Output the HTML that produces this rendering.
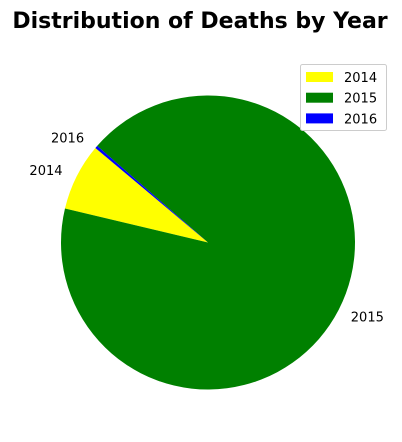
<!DOCTYPE html>
<html><head><meta charset="utf-8"><style>
body{margin:0;background:#fff;width:402px;height:437px;overflow:hidden}
text{font-family:"DejaVu Sans","Liberation Sans",sans-serif}
</style></head><body>
<svg width="402" height="437">
<text x="200" y="28" text-anchor="middle" font-size="22" font-weight="bold">Distribution of Deaths by Year</text>
<g id="pie"></g>
<g id="labels"></g>
<g>
<rect x="300.5" y="64.5" width="86" height="66" rx="2" fill="#fff" stroke="#ccc"/>
<g id="legend"></g>
</g>
</svg>
<script>
const categories=["2014","2015","2016"];
const values=[7.4,92.3,0.3];
const colors=["yellow","green","blue"];
const startAngle=140;
const cx=208,cy=242.5,r=147;
const ns="http://www.w3.org/2000/svg";
const pie=document.getElementById('pie'),lab=document.getElementById('labels'),leg=document.getElementById('legend');
const total=values.reduce((a,b)=>a+b,0);
let a=startAngle;
function pt(deg,rad){const t=deg*Math.PI/180;return [cx+rad*Math.cos(t),cy-rad*Math.sin(t)];}
values.forEach((v,i)=>{
 const sweep=v/total*360;const a2=a+sweep;
 const p1=pt(a,r),p2=pt(a2,r);
 const path=document.createElementNS(ns,'path');
 path.setAttribute('d',`M${cx},${cy}L${p1[0]},${p1[1]}A${r},${r} 0 ${sweep>180?1:0} 0 ${p2[0]},${p2[1]}Z`);
 path.setAttribute('fill',colors[i]);
 
 
 pie.appendChild(path);
 const mid=(a+a2)/2;const lp=pt(mid,r*1.1);
 const t=document.createElementNS(ns,'text');
 t.setAttribute('x',lp[0]-1);t.setAttribute('y',lp[1]+5);t.setAttribute('font-size','13');
 t.setAttribute('text-anchor',Math.cos(mid*Math.PI/180)<0?'end':'start');
 t.textContent=categories[i];
 
 
 lab.appendChild(t);
 const y=77+i*20.7;
 const rc=document.createElementNS(ns,'rect');
 rc.setAttribute('x',306);rc.setAttribute('y',y-5);rc.setAttribute('width',27);rc.setAttribute('height',10);rc.setAttribute('fill',colors[i]);
 
 
 leg.appendChild(rc);
 const lt=document.createElementNS(ns,'text');
 lt.setAttribute('x',344);lt.setAttribute('y',y+5);lt.setAttribute('font-size','13');lt.textContent=categories[i];
 
 
 leg.appendChild(lt);
 a=a2;
});
</script>
</body></html>
